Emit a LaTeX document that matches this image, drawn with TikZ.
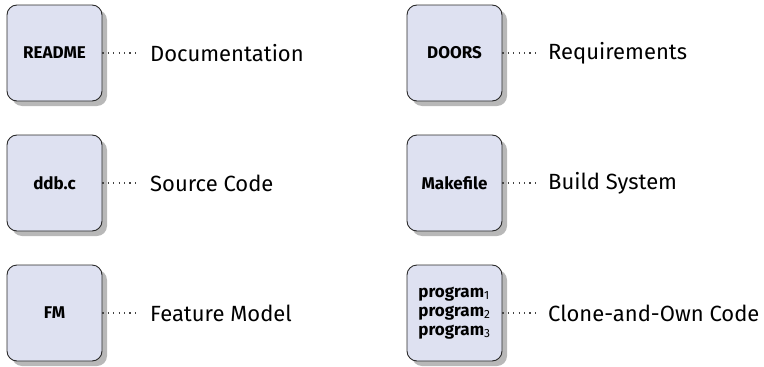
\documentclass[tikz,border=0pt]{standalone}
\usepackage{fontspec}
\setmainfont{Fira Sans}
\usetikzlibrary{shadows}

\definecolor{boxfill}{HTML}{DEE1F1}
\definecolor{boxline}{HTML}{2A2A2A}
\definecolor{dotline}{HTML}{444444}

\tikzset{
  artifact/.style={draw=boxline, line width=0.9pt, fill=boxfill,
    rounded corners=10pt, minimum width=95pt, minimum height=96pt,
    inner sep=2pt, align=left,
    font=\fontsize{17}{19}\selectfont\bfseries,
    drop shadow={shadow xshift=5pt, shadow yshift=-5pt, fill=black!28, opacity=1}},
  link/.style={draw=dotline, line width=1.1pt, dash pattern=on 1.1pt off 4.3pt},
  caption/.style={anchor=west, inner sep=0pt, font=\fontsize{22}{26}\selectfont}
}

\begin{document}
\begin{tikzpicture}[x=1pt, y=-1pt]
  \useasboundingbox (0,0) rectangle (764,367);

  % left column
  \node[artifact] (readme) at (54.5,53) {README};
  \node[artifact] (ddbc)   at (54.5,183) {ddb.c};
  \node[artifact] (fm)     at (54.5,313) {FM};

  % right column
  \node[artifact] (doors)    at (454.5,53) {DOORS};
  \node[artifact] (makefile) at (454.5,183) {Makefile};
  \node[artifact] (programs) at (454.5,313)
    {program\textsubscript{\mdseries 1}\\program\textsubscript{\mdseries 2}\\program\textsubscript{\mdseries 3}};

  % descriptions
  \node[caption] (doc)   at (150,53)  {Documentation};
  \node[caption] (src)   at (150,183) {Source Code};
  \node[caption] (feat)  at (150,313) {Feature Model};
  \node[caption] (req)   at (548,53)  {Requirements};
  \node[caption] (build) at (548,183) {Build System};
  \node[caption] (clone) at (548,313) {Clone-and-Own Code};

  % dotted links from each artifact toward its description
  \foreach \a in {readme,ddbc,fm,doors,makefile,programs}
    \draw[link] (\a.east) -- ++(33,0);
\end{tikzpicture}
\end{document}
